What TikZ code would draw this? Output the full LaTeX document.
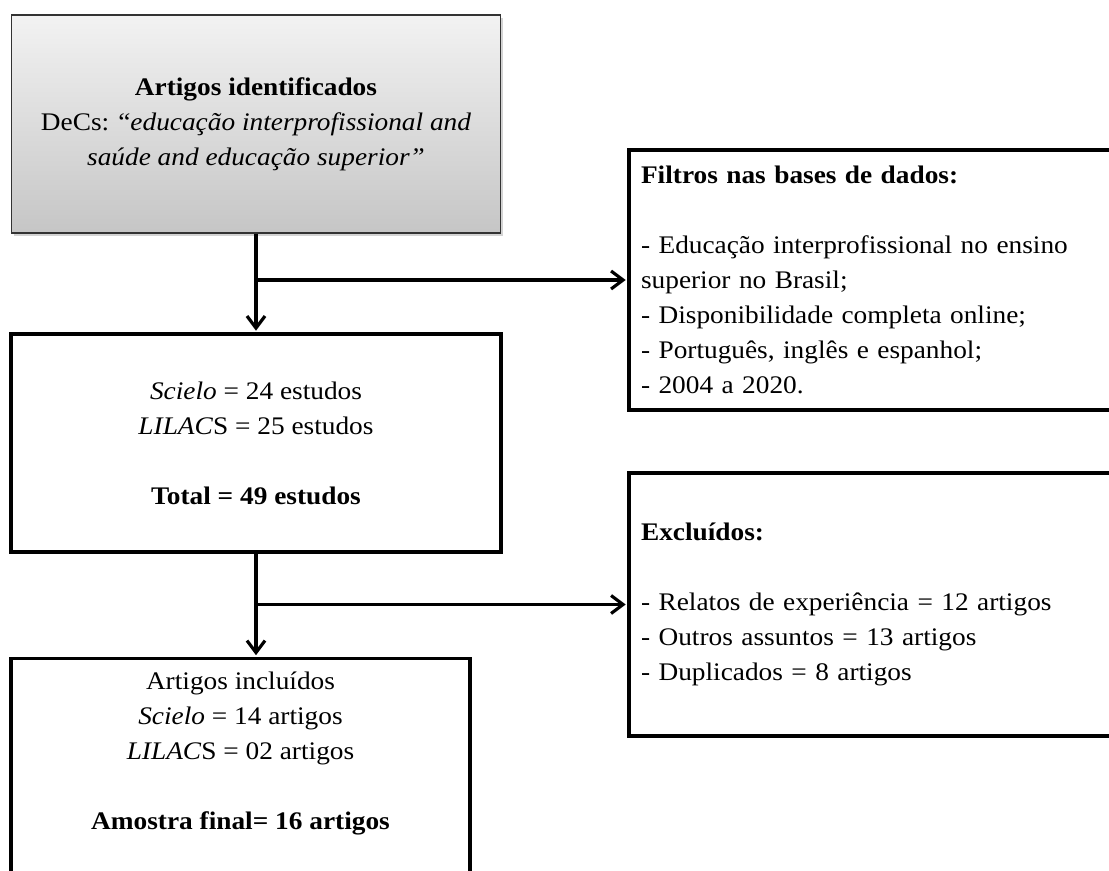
\documentclass[tikz,border=0pt]{standalone}
\usepackage{fontspec}
\setmainfont[FakeStretch=1.08]{Liberation Serif}
\usetikzlibrary{positioning}
\usetikzlibrary{shadows}
\usetikzlibrary{arrows.meta}

\begin{document}
\begin{tikzpicture}[x=0.02cm, y=-0.02cm,
  caixa/.style={draw=black, line width=1.8pt, fill=white, align=center,
    inner sep=0pt, font=\fontsize{14.4}{19.9}\selectfont},
  lista/.style={caixa, align=left, minimum width=9.8cm, inner xsep=0.24cm,
    text width=9.32cm},
  seta/.style={line width=1.8pt, shorten >=1pt,
    -{Straight Barb[length=0.24cm,width=0.36cm]}}]
\useasboundingbox (0,0) rectangle (1109,871);
\clip (0,0) rectangle (1109,871);

\node[caixa, draw=black!80, line width=0.6pt, top color=gray!10, bottom color=gray!45,
  drop shadow={shadow xshift=0.05cm, shadow yshift=-0.06cm, opacity=0.35},
  minimum width=9.8cm, minimum height=4.36cm] (ident) at (256,124)
  {\textbf{Artigos identificados}\\
   DeCs: “\textit{educação interprofissional and}\\
   \textit{saúde and educação superior”}};

\node[lista, minimum height=5.2cm] (filtros) at (874,280)
  {\textbf{Filtros nas bases de dados:}\\[19.9pt]
   - Educação interprofissional no ensino\\
   superior no Brasil;\\
   - Disponibilidade completa online;\\
   - Português, inglês e espanhol;\\
   - 2004 a 2020.};

\node[caixa, minimum width=9.8cm, minimum height=4.36cm] (estudos) at (256,443)
  {\textit{Scielo} = 24 estudos\\
   \textit{LILAC}S = 25 estudos\\[19.9pt]
   \textbf{Total = 49 estudos}};

\node[lista, minimum height=5.26cm] (excluidos) at (874,604.5)
  {\textbf{Excluídos:}\\[19.9pt]
   - Relatos de experiência = 12 artigos\\
   - Outros assuntos = 13 artigos\\
   - Duplicados = 8 artigos};

\node[caixa, anchor=north, minimum width=9.18cm, minimum height=5cm] (incluidos) at (240.5,657) {};
\node[caixa, draw=none, fill=none, below=0.26cm of incluidos.north] (amostra)
  {Artigos incluídos\\
   \textit{Scielo} = 14 artigos\\
   \textit{LILAC}S = 02 artigos\\[19.9pt]
   \textbf{Amostra final= 16 artigos}};

\draw[seta] (ident.south) -- (estudos.north);
\draw[seta] (ident.south |- filtros.west) -- (filtros.west);
\draw[seta] (estudos.south) -- (estudos.south |- incluidos.north);
\draw[seta] (estudos.south |- excluidos.west) -- (excluidos.west);

\end{tikzpicture}
\end{document}
